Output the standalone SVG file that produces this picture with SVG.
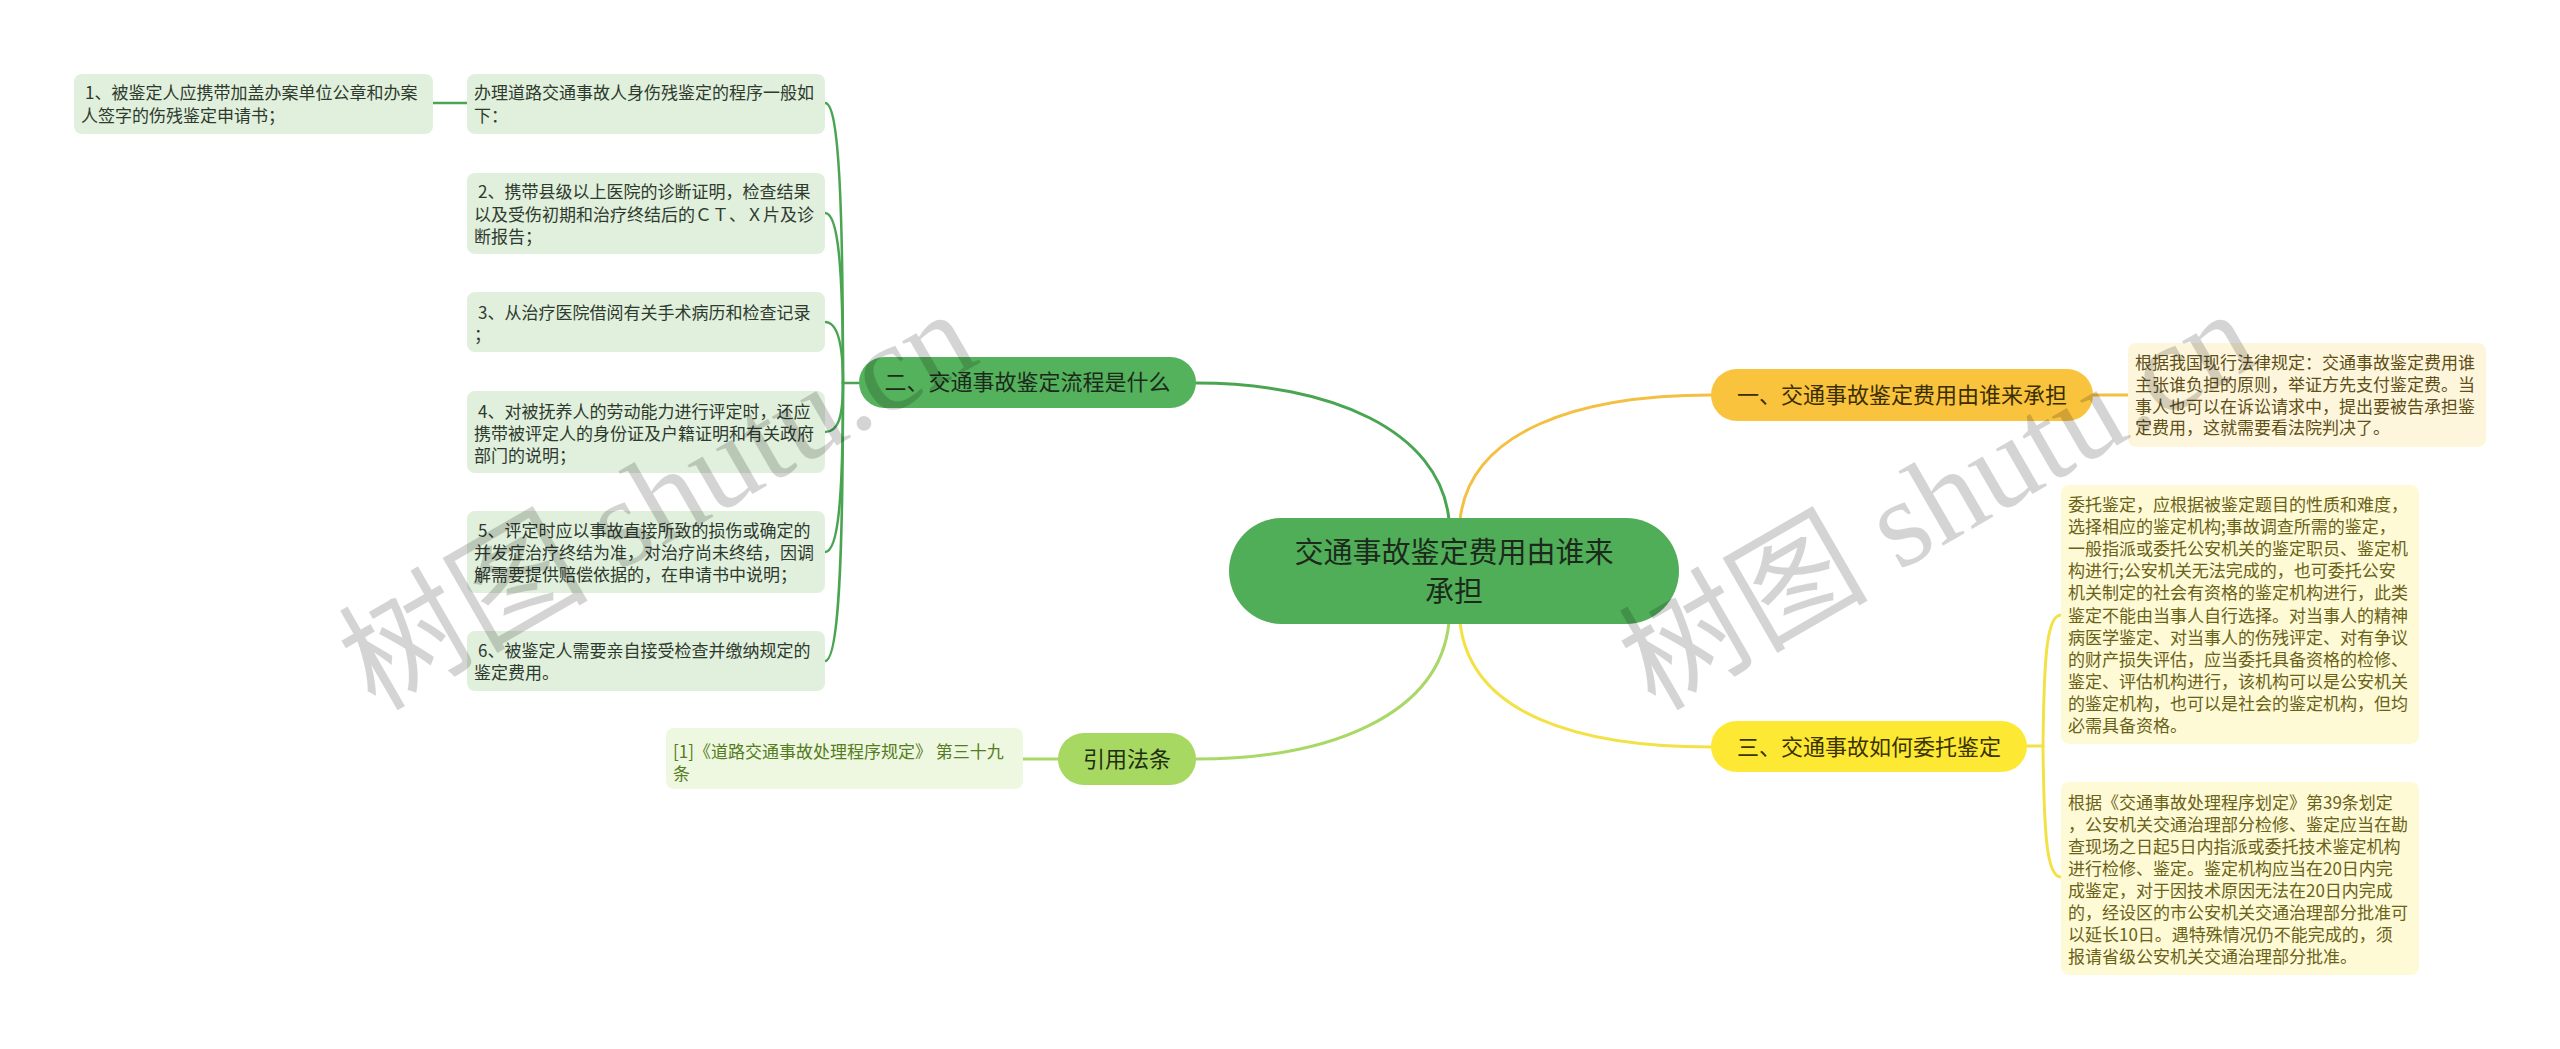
<svg xmlns="http://www.w3.org/2000/svg" width="2560" height="1049" viewBox="0 0 2560 1049">
<style>
text{font-family:"Noto Sans CJK SC","Noto Sans",sans-serif}
.t17{font-size:17px}
.gd rect{fill:#e0f0dc}
.gd text{fill:#2f3a2f}
.yd1 rect{fill:#fef6dc}
.yd1 text{fill:#5e5018}
.yd rect{fill:#fefad6}
.yd text{fill:#6a6218}
.conn path{fill:none;stroke-linecap:round}
.cg{stroke:#4aa552;stroke-width:2.5}
.cm{stroke:#4aa552;stroke-width:3}
.co{stroke:#f4c043;stroke-width:3}
.cy{stroke:#f3e247;stroke-width:3}
.cl{stroke:#a9d866;stroke-width:3}
.wm{fill:#000;fill-opacity:0.17}
.wm tspan.lat{font-family:"Liberation Serif",serif}
</style>
<rect width="2560" height="1049" fill="#fff"/>
<g id="connectors" class="conn">
<path class="cm" d="M1449,520 C1440,430 1330,383 1196,383"/>
<path class="co" d="M1460,520 C1470,430 1580,395 1711,395"/>
<path class="cy" d="M1460,622 C1470,715 1580,747 1711,747"/>
<path class="cl" d="M1449,622 C1440,715 1330,759 1196,759"/>
<path class="cg" d="M859,383 H843"/>
<path class="cg" d="M843,383 C843,187 838,103 825,103"/>
<path class="cg" d="M843,383 C843,264 838,213 825,213"/>
<path class="cg" d="M843,383 C843,345 838,322 825,322"/>
<path class="cg" d="M843,383 C843,418 838,432 825,432"/>
<path class="cg" d="M843,383 C843,502 838,552 825,552"/>
<path class="cg" d="M843,383 C843,570 838,661 825,661"/>
<path class="cg" d="M433,103 H467"/>
<path class="co" d="M2093,395 H2128"/>
<path class="cy" stroke-width="2.5" d="M2027,746 H2043 C2044,654 2047,615 2061,615"/>
<path class="cy" stroke-width="2.5" d="M2043,746 C2044,838 2047,877 2061,877"/>
<path class="cl" d="M1023,759 H1058"/>
</g>
<g id="center">
<rect x="1229" y="518" width="450" height="106" rx="53" fill="#50ae58"/>
<text x="1454" y="563" font-size="29" text-anchor="middle" fill="#1c2a1c">交通事故鉴定费用由谁来</text>
<text x="1454" y="602" font-size="29" text-anchor="middle" fill="#1c2a1c">承担</text>
</g>
<g id="branch2">
<rect x="859" y="357" width="337" height="51" rx="25.5" fill="#55b25c"/>
<text x="1027.5" y="390" font-size="22" text-anchor="middle" fill="#1c2a1c">二、交通事故鉴定流程是什么</text>
</g>
<g id="branch1">
<rect x="1711" y="369" width="382" height="52" rx="26" fill="#f9c33e"/>
<text x="1902" y="403" font-size="22" text-anchor="middle" fill="#3b2e00">一、交通事故鉴定费用由谁来承担</text>
</g>
<g id="branch3">
<rect x="1711" y="721" width="316" height="51" rx="25.5" fill="#fde934"/>
<text x="1869" y="754.5" font-size="22" text-anchor="middle" fill="#3b3300">三、交通事故如何委托鉴定</text>
</g>
<g id="cite">
<rect x="1058" y="733" width="138" height="52" rx="26" fill="#a6d862"/>
<text x="1127" y="767" font-size="22" text-anchor="middle" fill="#1f2d10">引用法条</text>
</g>
<g id="n-intro" class="gd t17">
<rect x="467" y="74" width="358" height="60" rx="8"/>
<text x="474" y="99">办理道路交通事故人身伤残鉴定的程序一般如</text>
<text x="474" y="122">下：</text>
</g>
<g id="n-1" class="gd t17">
<rect x="74" y="74" width="359" height="60" rx="8"/>
<text x="85" y="99">1、被鉴定人应携带加盖办案单位公章和办案</text>
<text x="81" y="122">人签字的伤残鉴定申请书；</text>
</g>
<g id="n-2" class="gd t17">
<rect x="467" y="173" width="358" height="81" rx="8"/>
<text x="478" y="198">2、携带县级以上医院的诊断证明，检查结果</text>
<text x="474" y="220.5">以及受伤初期和治疗终结后的ＣＴ、Ｘ片及诊</text>
<text x="474" y="243">断报告；</text>
</g>
<g id="n-3" class="gd t17">
<rect x="467" y="292" width="358" height="60" rx="8"/>
<text x="478" y="319">3、从治疗医院借阅有关手术病历和检查记录</text>
<text x="474" y="341">；</text>
</g>
<g id="n-4" class="gd t17">
<rect x="467" y="391" width="358" height="82" rx="8"/>
<text x="478" y="418">4、对被抚养人的劳动能力进行评定时，还应</text>
<text x="474" y="440">携带被评定人的身份证及户籍证明和有关政府</text>
<text x="474" y="462">部门的说明；</text>
</g>
<g id="n-5" class="gd t17">
<rect x="467" y="511" width="358" height="82" rx="8"/>
<text x="478" y="537">5、评定时应以事故直接所致的损伤或确定的</text>
<text x="474" y="559">并发症治疗终结为准，对治疗尚未终结，因调</text>
<text x="474" y="581">解需要提供赔偿依据的，在申请书中说明；</text>
</g>
<g id="n-6" class="gd t17">
<rect x="467" y="631" width="358" height="60" rx="8"/>
<text x="478" y="657">6、被鉴定人需要亲自接受检查并缴纳规定的</text>
<text x="474" y="679">鉴定费用。</text>
</g>
<g id="n-ref" class="t17">
<rect x="666" y="728" width="357" height="61" rx="8" fill="#eef8e0"/>
<text x="673" y="758" fill="#557c22">[1]《道路交通事故处理程序规定》 第三十九</text>
<text x="673" y="780" fill="#557c22">条</text>
</g>
<g id="d-1" class="yd1 t17">
<rect x="2128" y="343" width="358" height="104" rx="8"/>
<text x="2135" y="369">根据我国现行法律规定：交通事故鉴定费用谁</text>
<text x="2135" y="391">主张谁负担的原则，举证方先支付鉴定费。当</text>
<text x="2135" y="412.5">事人也可以在诉讼请求中，提出要被告承担鉴</text>
<text x="2135" y="434">定费用，这就需要看法院判决了。</text>
</g>
<g id="d-2" class="yd t17">
<rect x="2061" y="485" width="358" height="259" rx="8"/>
<text x="2068" y="511">委托鉴定，应根据被鉴定题目的性质和难度，</text>
<text x="2068" y="533.1">选择相应的鉴定机构;事故调查所需的鉴定，</text>
<text x="2068" y="555.2">一般指派或委托公安机关的鉴定职员、鉴定机</text>
<text x="2068" y="577.3">构进行;公安机关无法完成的，也可委托公安</text>
<text x="2068" y="599.4">机关制定的社会有资格的鉴定机构进行，此类</text>
<text x="2068" y="621.5">鉴定不能由当事人自行选择。对当事人的精神</text>
<text x="2068" y="643.6">病医学鉴定、对当事人的伤残评定、对有争议</text>
<text x="2068" y="665.7">的财产损失评估，应当委托具备资格的检修、</text>
<text x="2068" y="687.8">鉴定、评估机构进行，该机构可以是公安机关</text>
<text x="2068" y="709.9">的鉴定机构，也可以是社会的鉴定机构，但均</text>
<text x="2068" y="732">必需具备资格。</text>
</g>
<g id="d-3" class="yd t17">
<rect x="2061" y="782" width="358" height="193" rx="8"/>
<text x="2068" y="809">根据《交通事故处理程序划定》第39条划定</text>
<text x="2068" y="831">，公安机关交通治理部分检修、鉴定应当在勘</text>
<text x="2068" y="853">查现场之日起5日内指派或委托技术鉴定机构</text>
<text x="2068" y="875">进行检修、鉴定。鉴定机构应当在20日内完</text>
<text x="2068" y="897">成鉴定，对于因技术原因无法在20日内完成</text>
<text x="2068" y="919">的，经设区的市公安机关交通治理部分批准可</text>
<text x="2068" y="941">以延长10日。遇特殊情况仍不能完成的，须</text>
<text x="2068" y="963">报请省级公安机关交通治理部分批准。</text>
</g>
<g id="watermarks" class="wm">
<text transform="translate(375,712) rotate(-30)" font-size="125">树图<tspan class="lat"> shutu.cn</tspan></text>
<text transform="translate(1655,712) rotate(-30)" font-size="125">树图<tspan class="lat"> shutu.cn</tspan></text>
</g>
</svg>
